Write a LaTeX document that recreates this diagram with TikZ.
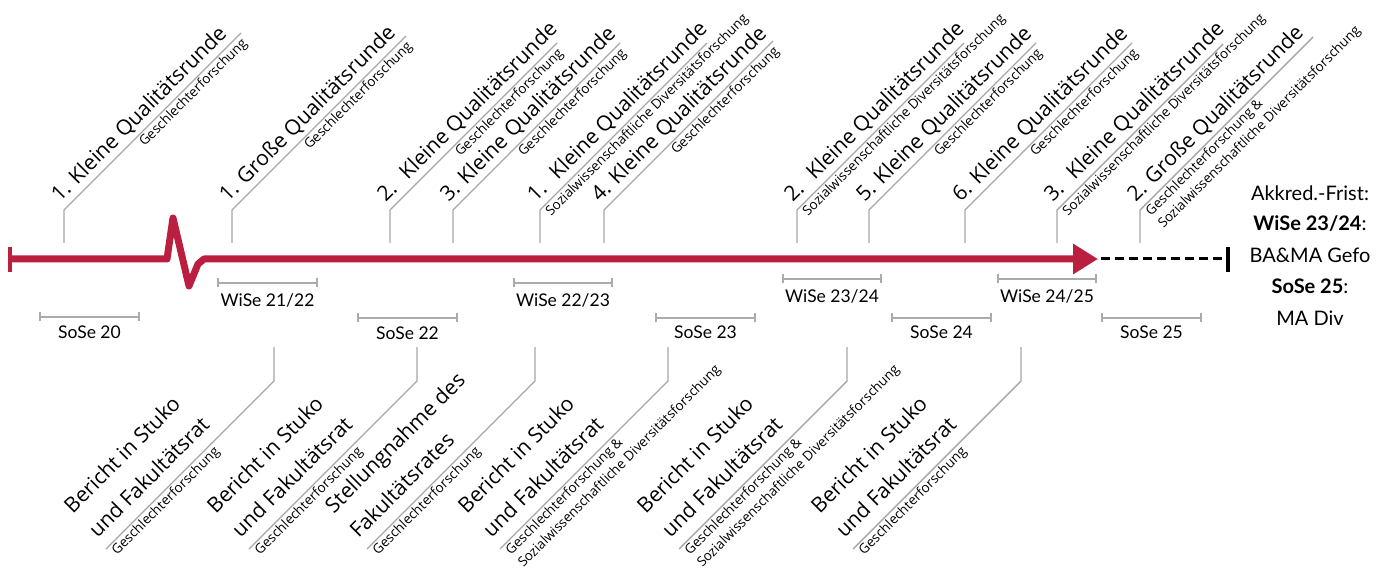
\documentclass[tikz,border=0pt]{standalone}
\usepackage{fontspec}
\newfontfamily\osfont{Open Sans}
\newfontfamily\latofont{Lato}
\usetikzlibrary{arrows.meta,calc}
\definecolor{tlred}{HTML}{BA1F40}
\definecolor{leadgray}{HTML}{A6A6A6}
\definecolor{bargray}{HTML}{ABABAB}
% top event: #1 name, #2 x, #3 diag length, #4 main text, #5 sub placement, #6 sub text
\newcommand\topev[6]{%
  \coordinate (#1a) at (#2,243);
  \coordinate (#1b) at (#2,210);
  \coordinate (#1c) at (#2+#3,210-#3);
  \draw[leader] (#1a) -- (#1b) -- (#1c);
  \begin{scope}[shift={(#1b)},x=1pt,y=1pt,rotate=45,transform shape]
    \node[mainlbl,anchor=base west] (#1m) at (2,8) {#4};
    \ifx r#5
      \node[sublbl,anchor=north east] (#1s) at ({#3*1.41421-3},-2) {#6};
    \else
      \node[sublbl,anchor=north west] (#1s) at (3,-2) {#6};
    \fi
  \end{scope}}
% bottom event: #1 name, #2 x, #3 line1, #4 line2, #5 sub text
\newcommand\botev[5]{%
  \coordinate (#1a) at (#2,347);
  \coordinate (#1b) at (#2,381);
  \coordinate (#1c) at (#2-168,549);
  \draw[leader] (#1a) -- (#1b) -- (#1c);
  \begin{scope}[shift={(#1c)},x=1pt,y=1pt,rotate=45,transform shape]
    \node[mainlbl,anchor=base west] (#1m) at (1,48) {#3};
    \node[mainlbl,anchor=base west] (#1n) at (1,13) {#4};
    \node[sublbl,anchor=north west] (#1s) at (3,-2) {#5};
  \end{scope}}
% semester: #1 name, #2 x1, #3 x2, #4 bar y, #5 baseline y, #6 text
\newcommand\semester[6]{%
  \coordinate (#1l) at (#2,#4);
  \coordinate (#1r) at (#3,#4);
  \draw[sembar] (#1l) -- (#1r);
  \node[semlbl] (#1t) at ({(#2+#3)/2},#5) {#6};}
\begin{document}
\begin{tikzpicture}[x=1pt,y=-1pt,
  leader/.style={draw=leadgray,line width=1.4pt},
  mainlbl/.style={font=\osfont\fontsize{21}{25}\selectfont,inner sep=0pt,text=black},
  sublbl/.style={font=\osfont\fontsize{13.5}{17.5}\selectfont,inner sep=0pt,align=left,text=black},
  sembar/.style={draw=bargray,line width=1.8pt,{Bar[width=9pt,line width=1.6pt]}-{Bar[width=9pt,line width=1.6pt]}},
  semlbl/.style={font=\latofont\fontsize{17.5}{20}\selectfont,inner sep=0pt,anchor=base,text=black},
  rlbl/.style={font=\latofont\fontsize{20}{24}\selectfont,inner sep=0pt,anchor=base,text=black},
]
\useasboundingbox (0,0) rectangle (1387,569);

% timeline
\coordinate (tl0) at (10,259);
\coordinate (tlbreakA) at (167,259);
\coordinate (tlpeak) at (173,218);
\coordinate (tlvalley) at (189,286);
\coordinate (tlbreakB) at (198,264);
\coordinate (tlbreakC) at (204,259);
\coordinate (tlend) at (1098,259);
\coordinate (tlbarT) at (10,247);
\coordinate (tlbarB) at (10,272);
\draw[tlred,line width=4.5pt] (tlbarT) -- (tlbarB);
\draw[tlred,line width=7pt,line join=round,-{Triangle[length=25pt,width=29pt]}]
  (tl0) -- (tlbreakA) -- (tlpeak) -- (tlvalley) -- (tlbreakB) -- (tlbreakC) -- (tlend);
\coordinate (dash0) at (1101,259);
\coordinate (dash1) at (1224,259);
\coordinate (endT) at (1228,247);
\coordinate (endB) at (1228,272);
\draw[black,line width=3pt,dash pattern=on 9pt off 5pt] (dash0) -- (dash1);
\draw[black,line width=4pt] (endT) -- (endB);

% right text
\node[rlbl] (r1) at (1310,201) {Akkred.-Frist:};
\node[rlbl] (r2) at (1310,231) {\textbf{WiSe 23/24}:};
\node[rlbl] (r3) at (1310,263) {BA\&MA Gefo};
\node[rlbl] (r4) at (1310,294) {\textbf{SoSe 25}:};
\node[rlbl] (r5) at (1310,326) {MA Div};

% semesters
\semester{s20}{39}{140}{317}{338}{SoSe 20}
\semester{w21}{217}{318}{283}{307}{WiSe 21/22}
\semester{s22}{357}{458}{318}{340}{SoSe 22}
\semester{w22}{513}{613}{283}{307}{WiSe 22/23}
\semester{s23}{655}{756}{318}{338}{SoSe 23}
\semester{w23}{782}{882}{279}{303}{WiSe 23/24}
\semester{s24}{891}{992}{318}{338}{SoSe 24}
\semester{w24}{997}{1097}{279}{303}{WiSe 24/25}
\semester{s25}{1101}{1202}{318}{338}{SoSe 25}

% top events
\topev{ta}{64}{177}{1. Kleine Qualitätsrunde}{r}{Geschlechterforschung}
\topev{tb}{232}{174}{1. Große Qualitätsrunde}{r}{Geschlechterforschung}
\topev{tc}{390}{167}{2.\hspace{0.3em} Kleine Qualitätsrunde}{r}{Geschlechterforschung}
\topev{td}{453}{167}{3. Kleine Qualitätsrunde}{r}{Geschlechterforschung}
\topev{te}{540}{167}{1.\hspace{0.3em} Kleine Qualitätsrunde}{l}{Sozialwissenschaftliche Diversitätsforschung}
\topev{tf}{604}{169}{4. Kleine Qualitätsrunde}{r}{Geschlechterforschung}
\topev{tg}{797}{167}{2.\hspace{0.3em} Kleine Qualitätsrunde}{l}{Sozialwissenschaftliche Diversitätsforschung}
\topev{th}{869}{167}{5. Kleine Qualitätsrunde}{r}{Geschlechterforschung}
\topev{ti}{965}{167}{6. Kleine Qualitätsrunde}{r}{Geschlechterforschung}
\topev{tj}{1057}{166}{3.\hspace{0.3em} Kleine Qualitätsrunde}{l}{Sozialwissenschaftliche Diversitätsforschung}
\topev{tk}{1140}{173}{2. Große Qualitätsrunde}{l}{Geschlechterforschung \&\\Sozialwissenschaftliche Diversitätsforschung}

% bottom events
\botev{ba}{274}{Bericht in Stuko}{und Fakultätsrat}{Geschlechterforschung}
\botev{bb}{417}{Bericht in Stuko}{und Fakultätsrat}{Geschlechterforschung}
\botev{bc}{535}{Stellungnahme des}{Fakultätsrates}{Geschlechterforschung}
\botev{bd}{668}{Bericht in Stuko}{und Fakultätsrat}{Geschlechterforschung \&\\Sozialwissenschaftliche Diversitätsforschung}
\botev{be}{847}{Bericht in Stuko}{und Fakultätsrat}{Geschlechterforschung \&\\Sozialwissenschaftliche Diversitätsforschung}
\botev{bf}{1021}{Bericht in Stuko}{und Fakultätsrat}{Geschlechterforschung}
\end{tikzpicture}
\end{document}
